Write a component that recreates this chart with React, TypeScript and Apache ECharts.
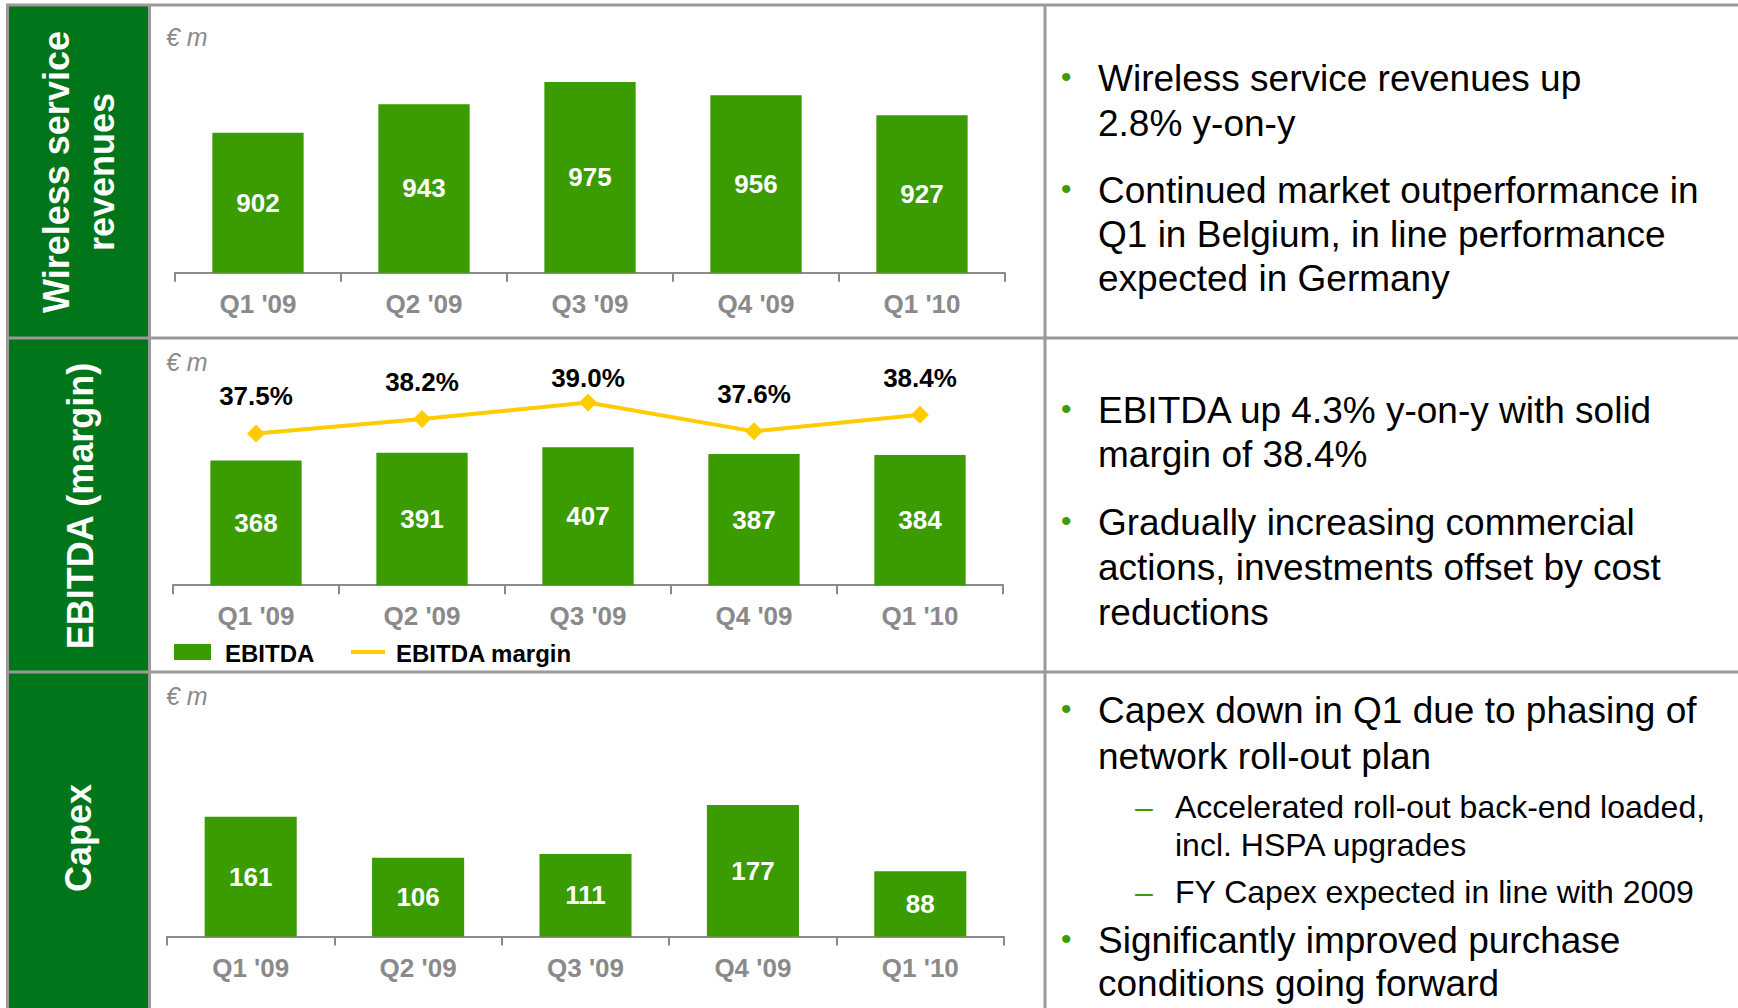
import React, { useEffect, useRef } from "react";
import * as echarts from "echarts";

// ---------- data ----------
const quarters = ["Q1 '09", "Q2 '09", "Q3 '09", "Q4 '09", "Q1 '10"];
const wirelessRevenue = [902, 943, 975, 956, 927];
const ebitda = [368, 391, 407, 387, 384];
const ebitdaMargin = [37.5, 38.2, 39.0, 37.6, 38.4];
const capex = [161, 106, 111, 177, 88];

const sectionTitles = ["Wireless service\nrevenues", "EBITDA (margin)", "Capex"];
const unitLabel = "€ m";
const legendLabels = ["EBITDA", "EBITDA margin"];

const revenueNotes = [
  ["Wireless service revenues up", "2.8% y-on-y"],
  ["Continued market outperformance in", "Q1 in Belgium, in line performance", "expected in Germany"],
];
const ebitdaNotes = [
  ["EBITDA up 4.3% y-on-y with solid", "margin of 38.4%"],
  ["Gradually increasing commercial", "actions, investments offset by cost", "reductions"],
];
const capexNotes = [["Capex down in Q1 due to phasing of", "network roll-out plan"]];
const capexSubNotes = [
  ["Accelerated roll-out back-end loaded,", "incl. HSPA upgrades"],
  ["FY Capex expected in line with 2009"],
];
const capexNotesEnd = [["Significantly improved purchase", "conditions going forward"]];

// ---------- style ----------
const FONT = '"Liberation Sans", Arial, Helvetica, sans-serif';
const BAR_GREEN = "#3a9c00";
const DARK_GREEN = "#007519";
const YELLOW = "#ffcc00";
const GRAY = "#8a8a8a";
const BORDER = "#9a9a9a";

function txt(x: number, y: number, text: string, o: any = {}) {
  const align = o.align || "left";
  const va = o.verticalAlign || "middle";
  return {
    type: "text",
    x,
    y,
    rotation: o.rotation || 0,
    z: 10,
    style: {
      text,
      fontSize: o.fontSize || 26,
      fontWeight: o.fontWeight || "normal",
      fontStyle: o.fontStyle || "normal",
      fontFamily: FONT,
      fill: o.fill || "#000",
      align,
      verticalAlign: va,
      textAlign: align,
      textVerticalAlign: va,
      lineHeight: o.lineHeight,
    },
  };
}

function line(x1: number, y1: number, x2: number, y2: number, color: string, w: number) {
  return {
    type: "line",
    z: 20,
    shape: { x1, y1, x2, y2 },
    style: { stroke: color, lineWidth: w },
  };
}

export default function App() {
  const ref = useRef<HTMLDivElement>(null);

  useEffect(() => {
    if (!ref.current) return;
    const chart = echarts.init(ref.current, undefined, { renderer: "svg" });

    const graphics: any[] = [];
    // label column
    graphics.push({
      type: "rect",
      z: 1,
      shape: { x: 8, y: 5, width: 142, height: 1003 },
      style: { fill: DARK_GREEN },
    });
    // borders
    graphics.push(line(6, 5, 1738, 5, BORDER, 3));
    graphics.push(line(6, 338, 1738, 338, BORDER, 3));
    graphics.push(line(6, 672, 1738, 672, BORDER, 3));
    graphics.push(line(7.5, 5, 7.5, 1008, BORDER, 3));
    graphics.push(line(149.5, 5, 149.5, 1008, BORDER, 3));
    graphics.push(line(1045, 5, 1045, 1008, BORDER, 3));

    // section titles (rotated)
    const titlePos = [
      [79, 172],
      [80, 506],
      [78, 838],
    ];
    sectionTitles.forEach((t, i) => {
      graphics.push(
        txt(titlePos[i][0], titlePos[i][1], t, {
          rotation: Math.PI / 2,
          align: "center",
          fontSize: 36,
          fontWeight: "bold",
          fill: "#fff",
          lineHeight: 45,
        })
      );
    });

    // unit labels
    [37, 362, 696].forEach((y) => {
      graphics.push(txt(166, y, unitLabel, { fontSize: 25, fontStyle: "italic", fill: GRAY }));
    });

    // legend for EBITDA panel
    graphics.push({
      type: "rect",
      z: 10,
      shape: { x: 174, y: 644, width: 37, height: 16 },
      style: { fill: BAR_GREEN },
    });
    graphics.push(txt(225, 653, legendLabels[0], { fontSize: 24, fontWeight: "bold" }));
    graphics.push(line(351, 652, 385, 652, YELLOW, 4));
    graphics.push(txt(396, 653, legendLabels[1], { fontSize: 24, fontWeight: "bold" }));

    // notes on the right
    const blocks: { lines: string[]; level: number; y: number; lh: number }[] = [
      { lines: revenueNotes[0], level: 0, y: 78, lh: 45 },
      { lines: revenueNotes[1], level: 0, y: 190, lh: 44 },
      { lines: ebitdaNotes[0], level: 0, y: 410, lh: 44 },
      { lines: ebitdaNotes[1], level: 0, y: 522, lh: 45 },
      { lines: capexNotes[0], level: 0, y: 710, lh: 46 },
      { lines: capexSubNotes[0], level: 1, y: 807, lh: 38 },
      { lines: capexSubNotes[1], level: 1, y: 892, lh: 38 },
      { lines: capexNotesEnd[0], level: 0, y: 940, lh: 43 },
    ];
    blocks.forEach((b) => {
      if (b.level === 0) {
        graphics.push(txt(1061, b.y - 2, "•", { fontSize: 30, fill: BAR_GREEN }));
        b.lines.forEach((l, i) => graphics.push(txt(1098, b.y + i * b.lh, l, { fontSize: 37 })));
      } else {
        graphics.push(txt(1135, b.y, "–", { fontSize: 32, fill: BAR_GREEN }));
        b.lines.forEach((l, i) => graphics.push(txt(1175, b.y + i * b.lh, l, { fontSize: 32 })));
      }
    });

    const grids = [
      { left: 175, width: 830, top: 64.7, height: 208 },
      { left: 173, width: 830, top: 381.8, height: 203.4 },
      { left: 167, width: 837, top: 750.6, height: 186 },
    ];

    const xAxes = grids.map((_, i) => ({
      type: "category",
      gridIndex: i,
      data: quarters,
      boundaryGap: true,
      axisLine: { show: true, lineStyle: { color: GRAY, width: 2 } },
      axisTick: { show: true, length: 9, alignWithLabel: false, lineStyle: { color: GRAY, width: 2 } },
      axisLabel: {
        color: GRAY,
        fontSize: 26,
        fontWeight: "bold",
        fontFamily: FONT,
        margin: 18,
      },
    }));

    const yAxes = [
      { type: "value", gridIndex: 0, min: 700, max: 1000, show: false },
      { type: "value", gridIndex: 1, min: 0, max: 600, show: false },
      { type: "value", gridIndex: 1, min: 30.15, max: 40, show: false },
      { type: "value", gridIndex: 2, min: 0, max: 250, show: false },
    ];

    const barLabel = {
      show: true,
      position: "inside",
      color: "#fff",
      fontSize: 26,
      fontWeight: "bold",
      fontFamily: FONT,
    };

    const maxMargin = Math.max(...ebitdaMargin);

    const option: any = {
      animation: false,
      backgroundColor: "#fff",
      textStyle: { fontFamily: FONT },
      grid: grids,
      xAxis: xAxes,
      yAxis: yAxes,
      graphic: { elements: graphics },
      series: [
        {
          name: "Wireless service revenues",
          type: "bar",
          xAxisIndex: 0,
          yAxisIndex: 0,
          data: wirelessRevenue,
          barWidth: "55%",
          clip: true,
          itemStyle: { color: BAR_GREEN },
          label: barLabel,
        },
        {
          name: "EBITDA",
          type: "bar",
          xAxisIndex: 1,
          yAxisIndex: 1,
          data: ebitda,
          barWidth: "55%",
          itemStyle: { color: BAR_GREEN },
          label: barLabel,
        },
        {
          name: "EBITDA margin",
          type: "line",
          xAxisIndex: 1,
          yAxisIndex: 2,
          data: ebitdaMargin.map((v) =>
            v === maxMargin ? { value: v, label: { distance: 2 } } : v
          ),
          symbol: "diamond",
          symbolSize: 18,
          lineStyle: { color: YELLOW, width: 4 },
          itemStyle: { color: YELLOW },
          z: 5,
          label: {
            show: true,
            position: "top",
            distance: 15,
            color: "#000",
            fontSize: 26,
            fontWeight: "bold",
            fontFamily: FONT,
            lineHeight: 26,
            formatter: (p: any) => Number(p.value).toFixed(1) + "%",
          },
        },
        {
          name: "Capex",
          type: "bar",
          xAxisIndex: 2,
          yAxisIndex: 3,
          data: capex,
          barWidth: "55%",
          itemStyle: { color: BAR_GREEN },
          label: barLabel,
        },
      ],
    };

    chart.setOption(option);
    return () => chart.dispose();
  }, []);

  return (
    <div
      ref={ref}
      style={{ position: "fixed", left: 0, top: 0, width: 1738, height: 1008, background: "#fff" }}
    />
  );
}
